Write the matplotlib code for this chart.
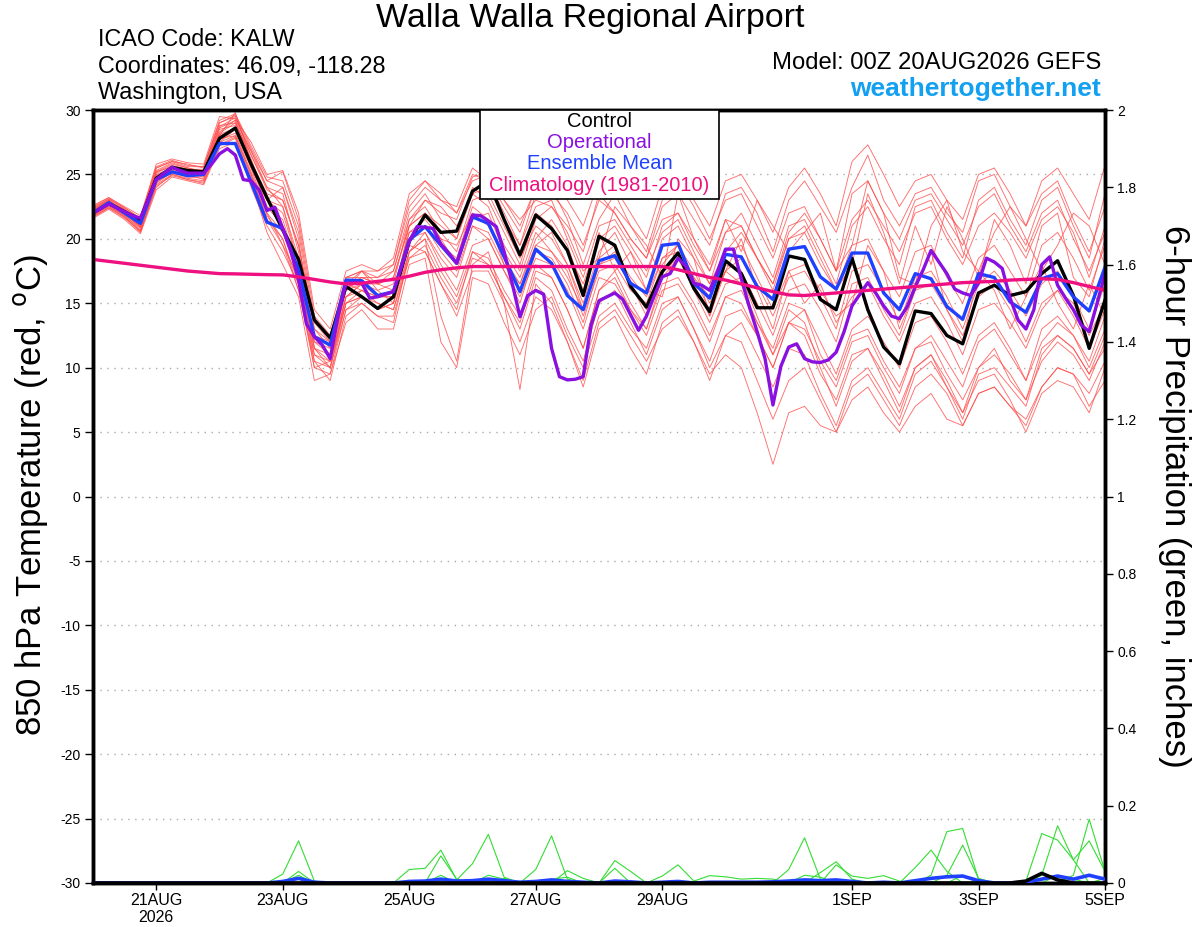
import matplotlib
matplotlib.use("Agg")
import matplotlib.pyplot as plt
from matplotlib.patches import Rectangle
import numpy as np

plt.rcParams['font.family'] = ['Liberation Sans', 'DejaVu Sans']

# ---------------- data ----------------
hours6 = np.arange(0, 385, 6)      # 20AUG 00Z .. 5SEP 00Z, 6-hourly
hours3 = np.arange(0, 385, 3)      # operational is 3-hourly

tick_hours = [24, 72, 120, 168, 216, 288, 336, 384]
tick_labels = ["21AUG\n2026", "23AUG", "25AUG", "27AUG", "29AUG", "1SEP", "3SEP", "5SEP"]

control = [22.0, 22.76, 22.1, 21.5, 24.7, 25.55, 25.3, 25.2, 27.8, 28.6, 25.8, 23.2, 20.7, 18.4, 13.7, 12.3, 16.3,
           15.5, 14.6, 15.5, 19.8, 21.85, 20.5, 20.6, 23.7, 24.5, 21.5, 18.75, 21.85, 20.8, 19.1, 15.6,
           20.2, 19.5, 16.3, 14.7, 17.45, 18.9, 16.15, 14.35, 18.3, 17.3, 14.65, 14.65, 18.67, 18.4, 15.3, 14.5,
           18.5, 14.5, 11.6, 10.3, 14.4, 14.2, 12.5, 11.85, 15.8, 16.4, 15.6, 15.9, 17.3, 18.3, 15.6, 11.5, 15.25]

ens_mean = [22.0, 22.8, 22.0, 21.2, 24.6, 25.2, 24.9, 25.0, 27.4, 27.4, 24.4, 21.3, 20.8, 17.6, 12.4, 11.75, 16.8,
            16.75, 15.6, 15.9, 19.9, 20.95, 19.5, 18.1, 21.7, 21.2, 18.6, 15.9, 19.2, 18.1, 15.6, 14.5,
            18.3, 18.7, 16.55, 15.8, 19.5, 19.65, 16.55, 15.4, 18.8, 18.6, 16.3, 15.3, 19.2, 19.4, 17.05, 16.1,
            18.9, 18.9, 15.8, 14.5, 17.3, 16.9, 14.75, 13.75, 17.3, 17.0, 15.1, 14.3, 16.9, 17.3, 15.5, 14.4, 17.8]

operational = [22.0, 22.35, 22.7, 22.4, 22.1, 21.8, 21.6, 23.1, 24.6, 25.1, 25.55, 25.3, 25.1, 25.1, 25.1, 25.8,
               26.6, 27.0, 26.5, 24.6, 24.5, 23.8, 22.2, 22.45, 20.8, 19.1, 16.8, 13.4, 12.4, 11.75, 10.7, 14.0,
               16.55, 16.6, 16.55, 15.4, 15.5, 15.7, 15.9, 17.8, 19.8, 20.95, 20.9, 20.8, 19.6, 18.9, 18.1, 20.0,
               21.85, 21.8, 21.4, 20.95, 19.0, 16.6, 13.95, 15.6, 16.0, 15.7, 11.5, 9.3, 9.05, 9.1, 9.3, 13.3,
               15.2, 15.5, 15.8, 15.3, 14.1, 12.9, 14.0, 15.6, 17.05, 17.3, 18.5, 17.85, 16.55, 16.4, 16.0, 17.5,
               19.2, 19.2, 16.9, 14.75, 12.8, 10.7, 7.1, 10.1, 11.6, 11.85, 10.7, 10.45, 10.4, 10.6, 11.2, 12.8,
               14.8, 15.7, 16.6, 15.8, 14.8, 14.0, 13.8, 14.75, 16.3, 17.6, 19.1, 18.2, 17.3, 16.1, 15.8, 15.6,
               16.55, 18.5, 18.2, 17.7, 15.4, 13.7, 13.0, 14.5, 18.0, 18.6, 16.4, 15.4, 14.5, 13.3, 12.8, 15.0,
               17.3]

climatology = [18.4, 18.25, 18.1, 17.95, 17.8, 17.65, 17.5, 17.4, 17.3, 17.28, 17.25, 17.22, 17.2, 17.05, 16.85,
               16.65, 16.5, 16.55, 16.7, 16.85, 17.1, 17.4, 17.6, 17.75, 17.85, 17.85, 17.85, 17.85, 17.85, 17.85,
               17.85, 17.85, 17.85, 17.85, 17.85, 17.85, 17.85, 17.6, 17.3, 17.0, 16.8, 16.5, 16.2, 15.9, 15.65,
               15.6, 15.7, 15.8, 15.9, 16.0, 16.1, 16.2, 16.3, 16.4, 16.5, 16.6, 16.65, 16.7, 16.8, 16.85, 16.9,
               16.85, 16.6, 16.3, 16.0]

members = [
    [22.4, 23.1, 22.3, 21.2, 25.5, 26.0, 25.8, 25.5, 29.0, 29.6, 27.0, 24.5, 25.2, 21.5, 14.0, 12.5, 17.0,
     17.5, 16.5, 17.0, 21.0, 23.0, 22.0, 21.5, 24.8, 25.2, 23.0, 21.0, 24.0, 23.5, 22.0, 19.5,
     23.0, 22.0, 20.0, 18.5, 22.5, 23.5, 21.5, 19.5, 23.5, 24.0, 22.0, 19.0, 23.0, 24.5, 22.5, 20.5,
     24.0, 26.5, 23.0, 21.0, 23.5, 24.0, 22.0, 20.5, 24.5, 25.0, 22.5, 21.0, 23.5, 24.5, 21.5, 19.0, 22.5],
    [22.0, 22.8, 22.0, 21.0, 25.0, 25.5, 25.3, 25.0, 28.0, 29.8, 26.0, 23.0, 24.0, 20.0, 11.5, 10.0, 15.5,
     16.5, 15.5, 16.0, 20.5, 21.0, 19.5, 18.5, 22.5, 21.5, 18.0, 16.0, 19.5, 20.5, 18.0, 14.5,
     18.5, 19.5, 16.5, 14.5, 18.0, 19.5, 17.0, 14.5, 17.5, 16.5, 13.5, 11.5, 15.0, 14.5, 11.0, 9.0,
     12.5, 13.0, 10.5, 8.5, 11.5, 12.0, 9.5, 7.5, 10.0, 11.5, 9.0, 7.5, 10.5, 12.0, 11.0, 9.0, 12.0],
    [21.8, 22.5, 21.7, 20.5, 24.3, 25.2, 25.0, 24.8, 27.5, 28.5, 25.5, 22.0, 19.5, 17.0, 10.5, 9.0, 14.0,
     15.0, 14.0, 13.5, 19.0, 20.0, 14.0, 10.5, 18.0, 19.0, 15.0, 8.3, 16.5, 15.0, 12.0, 8.5,
     13.0, 14.0, 11.5, 9.5, 13.5, 14.5, 12.0, 9.0, 12.5, 12.0, 9.0, 6.0, 9.0, 10.0, 7.5, 5.0,
     8.5, 9.5, 7.5, 5.5, 8.5, 9.5, 8.0, 5.5, 8.0, 8.5, 7.0, 6.0, 8.5, 10.0, 9.5, 7.0, 9.0],
    [22.2, 23.0, 22.1, 21.3, 25.3, 25.9, 25.5, 25.2, 28.8, 29.0, 26.5, 24.0, 22.5, 18.5, 12.0, 11.0, 16.0,
     17.0, 17.0, 17.5, 22.0, 23.5, 21.5, 20.0, 24.0, 23.0, 20.5, 18.0, 22.0, 21.0, 19.0, 16.5,
     20.0, 21.0, 19.0, 17.0, 21.0, 22.0, 20.0, 17.5, 21.5, 21.0, 18.5, 16.0, 20.0, 20.5, 18.0, 16.0,
     19.5, 20.0, 17.5, 15.5, 19.0, 19.5, 17.0, 15.0, 18.5, 19.5, 17.5, 15.5, 19.5, 20.5, 18.5, 16.0, 19.5],
    [21.9, 22.6, 21.8, 20.8, 24.5, 25.3, 25.0, 24.6, 27.8, 28.0, 25.0, 21.5, 20.0, 16.0, 10.0, 10.5, 15.0,
     15.5, 14.5, 15.0, 19.5, 19.0, 16.5, 14.5, 19.0, 18.5, 16.0, 14.0, 18.0, 17.0, 14.5, 11.5,
     16.0, 17.5, 15.0, 13.0, 17.0, 18.5, 16.0, 13.5, 16.5, 17.0, 14.0, 11.0, 14.5, 13.5, 10.0, 7.0,
     10.5, 11.5, 9.5, 7.0, 10.0, 11.0, 9.0, 6.5, 9.0, 9.5, 7.5, 5.0, 8.0, 9.0, 8.5, 6.5, 10.0],
    [22.5, 23.2, 22.4, 21.6, 25.8, 26.2, 25.9, 25.8, 29.5, 29.3, 27.5, 25.0, 25.3, 22.0, 14.5, 13.0, 17.5,
     18.0, 17.5, 18.0, 22.5, 24.0, 23.0, 22.5, 25.5, 24.5, 22.0, 19.5, 23.5, 24.0, 21.5, 18.0,
     21.5, 23.5, 21.0, 19.0, 23.0, 24.5, 22.5, 20.0, 23.0, 23.5, 21.0, 18.5, 22.0, 22.5, 20.0, 17.5,
     19.5, 24.5, 22.0, 17.0, 16.5, 21.0, 23.0, 19.0, 17.5, 20.5, 22.5, 20.0, 17.5, 19.5, 22.0, 21.0, 18.0],
    [22.1, 22.9, 22.2, 21.4, 25.1, 25.7, 25.4, 25.3, 28.3, 29.2, 26.0, 23.5, 23.0, 19.5, 13.0, 11.5, 16.5,
     16.0, 15.5, 15.5, 21.0, 22.0, 20.0, 18.0, 21.5, 22.0, 19.0, 17.0, 20.5, 19.0, 17.5, 14.0,
     17.5, 18.0, 16.0, 15.0, 18.5, 19.0, 17.0, 15.5, 19.0, 19.5, 17.0, 14.5, 17.5, 18.0, 16.0, 14.0,
     15.0, 19.5, 17.5, 13.0, 16.0, 19.0, 14.5, 12.0, 17.5, 16.0, 13.0, 15.5, 18.0, 15.0, 13.0, 16.5, 14.0],
    [21.7, 22.4, 21.6, 20.6, 24.0, 25.0, 24.6, 24.4, 27.2, 27.8, 24.5, 20.5, 18.0, 15.5, 9.0, 9.5, 13.5,
     14.5, 13.0, 13.0, 18.0, 18.5, 12.0, 10.0, 17.0, 16.5, 13.5, 11.0, 14.5, 15.5, 12.5, 10.0,
     14.0, 15.0, 13.0, 11.5, 15.0, 15.5, 13.0, 10.5, 14.0, 14.5, 12.5, 10.0, 13.5, 12.5, 9.5, 7.5,
     11.0, 11.5, 9.0, 6.5, 10.0, 11.0, 8.5, 6.0, 9.5, 10.0, 8.5, 7.0, 11.0, 12.5, 11.5, 9.5, 12.5],
    [22.3, 23.0, 22.0, 21.0, 24.8, 25.5, 25.2, 25.0, 28.5, 28.8, 26.0, 22.5, 21.0, 17.5, 11.0, 10.5, 15.5,
     16.5, 16.0, 16.5, 21.5, 22.5, 20.5, 19.0, 23.0, 23.5, 21.0, 18.5, 21.0, 20.0, 18.0, 15.0,
     19.0, 20.5, 18.0, 16.0, 20.0, 21.0, 18.5, 16.5, 20.5, 22.0, 19.5, 17.0, 21.0, 21.5, 19.0, 16.5,
     21.0, 22.5, 20.0, 18.0, 22.5, 23.0, 20.5, 18.5, 23.0, 24.0, 21.5, 19.5, 23.0, 24.0, 21.0, 18.5, 23.5],
    [22.0, 22.7, 21.9, 20.9, 24.6, 25.4, 25.1, 24.9, 28.0, 28.5, 25.5, 23.0, 22.0, 18.0, 12.5, 12.0, 16.0,
     17.5, 16.0, 15.0, 20.0, 20.5, 18.5, 17.0, 21.0, 20.0, 17.5, 15.5, 18.5, 18.0, 16.0, 13.0,
     17.0, 16.5, 14.5, 13.0, 16.5, 17.0, 15.0, 12.5, 15.5, 16.0, 13.5, 11.0, 13.5, 13.0, 10.5, 8.5,
     12.0, 12.5, 10.0, 8.0, 11.5, 12.5, 10.5, 8.5, 12.0, 13.0, 11.0, 9.0, 13.0, 14.0, 12.5, 10.5, 14.0],
    [22.6, 23.2, 22.5, 21.8, 25.6, 26.1, 25.7, 25.6, 29.2, 29.7, 27.2, 24.8, 24.5, 21.0, 13.5, 12.0, 17.0,
     17.0, 16.5, 17.5, 21.5, 23.0, 22.5, 21.0, 23.5, 22.5, 19.5, 17.5, 21.5, 22.5, 20.5, 17.5,
     18.5, 22.5, 21.0, 19.5, 17.0, 23.5, 20.0, 18.0, 21.5, 19.0, 23.0, 21.0, 19.0, 20.5, 22.0, 17.5,
     23.5, 24.5, 22.0, 20.0, 23.0, 23.5, 21.5, 19.5, 22.5, 23.5, 21.0, 19.0, 22.0, 23.0, 20.0, 17.5, 20.5],
    [21.6, 22.3, 21.5, 20.4, 23.8, 24.8, 24.5, 24.2, 27.0, 27.5, 24.0, 21.0, 19.0, 16.5, 10.0, 9.5, 14.5,
     15.5, 15.0, 14.5, 18.5, 19.5, 17.0, 15.0, 18.5, 18.0, 15.5, 13.0, 17.0, 16.0, 13.0, 10.5,
     15.0, 16.0, 13.5, 11.0, 14.5, 15.5, 13.0, 10.0, 12.5, 13.5, 11.0, 8.5, 11.5, 11.0, 8.0, 5.5,
     9.0, 10.0, 8.0, 6.0, 9.5, 10.5, 8.5, 6.5, 10.0, 11.0, 9.5, 7.5, 11.5, 12.5, 11.5, 9.5, 11.5],
    [22.2, 22.9, 22.3, 21.5, 25.2, 25.6, 25.4, 25.4, 28.7, 29.4, 26.8, 24.0, 23.5, 19.0, 12.5, 11.0, 16.0,
     16.5, 16.5, 16.0, 20.5, 21.5, 20.0, 19.5, 22.0, 21.0, 18.5, 16.5, 20.0, 21.5, 19.5, 16.0,
     20.5, 17.5, 19.0, 16.0, 15.5, 20.0, 18.5, 14.0, 17.5, 20.0, 16.0, 13.0, 17.5, 15.0, 16.5, 13.5,
     15.5, 16.5, 14.0, 12.0, 15.0, 15.5, 13.5, 11.0, 14.5, 15.0, 13.5, 11.5, 14.5, 16.0, 15.0, 12.5, 15.0],
    [21.9, 22.6, 21.9, 21.0, 24.4, 25.1, 24.8, 24.7, 27.7, 28.2, 25.2, 22.0, 20.5, 17.0, 11.5, 10.5, 15.0,
     16.0, 15.0, 14.5, 19.0, 20.5, 18.0, 16.0, 19.5, 20.0, 17.5, 15.0, 19.0, 18.5, 16.5, 13.5,
     18.0, 18.5, 16.5, 14.0, 17.5, 18.5, 16.5, 14.0, 18.0, 17.5, 15.0, 12.5, 16.0, 16.5, 14.5, 12.0,
     16.5, 17.0, 14.5, 12.5, 16.0, 16.5, 14.5, 12.5, 15.5, 16.5, 14.5, 12.0, 15.0, 16.0, 14.0, 11.5, 14.5],
    [22.4, 23.1, 22.4, 21.6, 25.5, 26.0, 25.6, 25.6, 29.0, 29.5, 26.5, 23.8, 23.0, 19.5, 13.5, 12.5, 17.0,
     17.5, 17.0, 18.0, 23.0, 24.5, 23.5, 22.0, 24.5, 25.0, 23.0, 21.5, 23.0, 22.5, 21.0, 19.0,
     23.5, 22.0, 20.0, 18.5, 21.5, 22.0, 19.5, 17.5, 20.5, 21.0, 18.5, 16.5, 20.0, 21.0, 18.5, 16.0,
     18.0, 23.5, 20.5, 16.5, 21.0, 18.0, 22.5, 20.0, 17.0, 21.5, 19.5, 16.5, 21.0, 22.0, 17.0, 15.5, 20.0],
    [21.8, 22.5, 21.8, 20.7, 24.2, 25.0, 24.7, 24.5, 27.5, 28.0, 25.0, 21.5, 19.5, 16.0, 10.5, 10.0, 14.5,
     15.0, 14.0, 14.0, 18.5, 19.0, 16.5, 14.0, 17.5, 17.5, 15.0, 12.0, 15.5, 14.5, 12.0, 9.0,
     13.5, 14.5, 12.5, 10.5, 13.0, 14.0, 12.0, 9.5, 11.0, 10.0, 6.5, 2.5, 6.5, 7.0, 5.5, 5.0,
     7.5, 8.5, 6.5, 5.0, 7.0, 8.0, 6.0, 5.5, 8.0, 8.5, 7.0, 5.5, 8.5, 10.0, 9.5, 8.0, 10.5],
    [22.1, 22.8, 22.1, 21.1, 24.9, 25.5, 25.3, 25.1, 28.2, 29.0, 26.2, 23.0, 22.5, 18.0, 12.0, 11.5, 16.5,
     17.0, 16.5, 17.0, 21.0, 22.0, 21.0, 20.0, 23.5, 24.0, 21.5, 19.5, 22.5, 23.0, 20.0, 17.0,
     21.0, 21.5, 19.5, 17.5, 20.5, 21.5, 19.0, 16.5, 19.0, 20.5, 18.5, 16.5, 20.5, 22.0, 20.0, 17.5,
     21.5, 23.0, 21.0, 19.0, 22.0, 22.5, 20.0, 18.0, 21.0, 22.0, 20.5, 18.5, 21.5, 22.5, 20.5, 17.0, 21.0],
    [22.0, 22.7, 22.0, 20.9, 24.7, 25.3, 25.0, 24.9, 28.1, 28.6, 25.7, 22.5, 21.5, 17.5, 11.5, 11.0, 15.5,
     16.0, 15.5, 15.5, 20.0, 21.0, 19.0, 17.5, 21.0, 20.5, 18.0, 16.5, 19.5, 19.0, 17.0, 14.5,
     18.0, 19.0, 17.0, 15.5, 18.5, 19.5, 17.5, 15.0, 17.5, 18.5, 16.5, 14.0, 17.0, 17.5, 15.5, 13.0,
     17.5, 18.0, 16.0, 13.5, 17.0, 17.5, 15.5, 13.0, 16.5, 17.5, 16.0, 14.0, 16.5, 17.5, 15.5, 13.0, 16.5],
    [22.3, 23.0, 22.2, 21.3, 25.2, 25.8, 25.5, 25.2, 28.6, 29.2, 26.8, 24.5, 24.0, 20.5, 13.0, 12.0, 16.5,
     17.5, 17.5, 18.5, 23.5, 24.5, 23.0, 22.0, 25.0, 24.5, 22.5, 20.5, 24.0, 25.0, 23.0, 21.0,
     24.5, 24.0, 22.0, 20.0, 24.0, 25.0, 23.0, 21.0, 24.5, 25.0, 23.0, 20.5, 24.0, 25.5, 23.5, 21.0,
     26.0, 27.3, 25.0, 22.5, 24.5, 25.0, 23.0, 21.5, 25.0, 25.5, 23.5, 21.0, 24.5, 25.5, 23.5, 21.5, 25.7],
    [21.7, 22.4, 21.7, 20.6, 24.1, 24.9, 24.6, 24.3, 27.3, 27.9, 24.8, 21.8, 20.0, 16.5, 11.0, 10.0, 15.0,
     15.5, 14.5, 15.0, 19.0, 20.0, 17.5, 15.5, 19.0, 18.0, 15.5, 13.5, 17.5, 17.0, 14.5, 11.5,
     16.0, 17.0, 14.5, 12.5, 16.0, 16.5, 14.5, 12.0, 15.5, 15.0, 12.5, 10.0, 13.5, 14.5, 12.0, 9.5,
     13.0, 14.0, 12.0, 10.0, 13.5, 14.0, 12.0, 9.5, 12.5, 13.5, 11.5, 9.0, 12.0, 13.5, 12.5, 10.0, 13.0],
]

# 6-hour precipitation (inches): {6-hourly index: value}; unlisted steps are 0
precip_members = [
    {12: 0.023, 13: 0.109, 14: 0.005, 23: 0.008, 24: 0.05, 25: 0.126, 26: 0.015, 44: 0.035, 45: 0.117,
     46: 0.01, 62: 0.02, 63: 0.165, 64: 0.03},
    {13: 0.03, 20: 0.035, 21: 0.038, 22: 0.085, 23: 0.008, 28: 0.035, 29: 0.122, 30: 0.01, 53: 0.02,
     54: 0.133, 55: 0.141, 56: 0.01},
    {13: 0.02, 22: 0.07, 23: 0.01, 26: 0.012, 30: 0.032, 31: 0.012, 33: 0.058, 34: 0.03, 46: 0.027,
     47: 0.055, 48: 0.01, 60: 0.02, 61: 0.148, 62: 0.06},
    {36: 0.018, 37: 0.047, 38: 0.005, 39: 0.019, 40: 0.016, 41: 0.01, 42: 0.012, 43: 0.01, 52: 0.04,
     53: 0.085, 54: 0.03, 59: 0.005, 60: 0.128, 61: 0.111, 62: 0.06, 63: 0.109, 64: 0.03},
    {22: 0.02, 25: 0.02, 26: 0.01, 33: 0.038, 47: 0.047, 48: 0.018, 49: 0.012, 50: 0.019, 51: 0.005,
     54: 0.02, 55: 0.098, 56: 0.012},
    {13: 0.012, 29: 0.01, 30: 0.015, 45: 0.02, 46: 0.015, 55: 0.02, 61: 0.02, 62: 0.01, 64: 0.012},
]
precip_mean = {12: 0.004, 13: 0.012, 14: 0.002, 20: 0.004, 21: 0.005, 22: 0.01, 23: 0.005, 24: 0.006,
               25: 0.01, 26: 0.006, 27: 0.002, 28: 0.004, 29: 0.008, 30: 0.004, 31: 0.002, 33: 0.005,
               34: 0.003, 36: 0.002, 37: 0.004, 39: 0.002, 40: 0.002, 41: 0.002, 42: 0.002, 43: 0.003,
               44: 0.005, 45: 0.008, 46: 0.006, 47: 0.008, 48: 0.004, 50: 0.002, 52: 0.006, 53: 0.012,
               54: 0.016, 55: 0.018, 56: 0.006, 59: 0.002, 60: 0.01, 61: 0.018, 62: 0.01, 63: 0.02, 64: 0.01}
precip_control = {59: 0.005, 60: 0.025, 61: 0.008}


def to_series(d, n=len(hours6)):
    s = np.zeros(n)
    for k, v in d.items():
        s[k] = v
    return s


# ---------------- colours ----------------
C_MEMBER = '#ff4a4a'
C_CTRL = 'black'
C_OP = '#8a10e0'
C_MEAN = '#2040ff'
C_CLIM = '#ee1080'
C_GREEN = '#33dd33'

# ---------------- figure ----------------
fig = plt.figure(figsize=(12, 9.27), dpi=100)
ax = fig.add_axes([93 / 1200, 1 - 883 / 927, (1105 - 93) / 1200, (883 - 110) / 927])

for m in members:
    ax.plot(hours6, m, color=C_MEMBER, lw=0.65, alpha=0.8, zorder=2)
ax.plot(hours6, control, color=C_CTRL, lw=2.4, zorder=4)
ax.plot(hours6, ens_mean, color=C_MEAN, lw=2.4, zorder=5)
ax.plot(hours3, operational, color=C_OP, lw=2.4, zorder=6)
ax.plot(hours6, climatology, color=C_CLIM, lw=2.4, zorder=7)

ax.set_xlim(0, 384)
ax.set_ylim(-30, 30)
ax.set_yticks(np.arange(-30, 31, 5))
ax.set_yticklabels([str(v) for v in range(-30, 31, 5)])
ax.set_xticks(tick_hours)
ax.set_xticklabels(tick_labels)
for yv in range(-25, 30, 5):
    ax.axhline(yv, color='#aaaaaa', lw=1.0, ls=(0, (1, 4)), zorder=1)

ax.tick_params(axis='y', direction='out', length=6, width=1, labelsize=10, pad=3)
ax.tick_params(axis='x', direction='out', length=5, width=1, labelsize=11.5, pad=2)
for sp in ax.spines.values():
    sp.set_linewidth(2.5)

# precipitation axis
ax2 = ax.twinx()
for d in precip_members:
    ax2.plot(hours6, to_series(d), color=C_GREEN, lw=0.8, zorder=2)
ax2.plot(hours6, to_series(precip_mean), color=C_MEAN, lw=2.6, zorder=3)
ax2.plot(hours6, to_series(precip_control), color=C_CTRL, lw=2.6, zorder=4)
ax2.set_ylim(0, 2)
ax2.set_xlim(0, 384)
ax2.set_yticks(np.arange(0, 2.01, 0.2))
ax2.set_yticklabels(['0', '0.2', '0.4', '0.6', '0.8', '1', '1.2', '1.4', '1.6', '1.8', '2'])
ax2.tick_params(axis='y', direction='out', length=6, width=1, labelsize=10, pad=3)
for sp in ax2.spines.values():
    sp.set_linewidth(2.5)

# axis titles
fig.text(31 / 1200, 1 - 495 / 927, "850 hPa Temperature (red, $^{\\mathrm{o}}$C)", fontsize=25,
         rotation=90, ha='center', va='center')
fig.text(1175 / 1200, 1 - 496 / 927, "6-hour Precipitation (green, inches)", fontsize=25,
         rotation=-90, ha='center', va='center')

# legend box (drawn on top)
x0 = (480 - 93) / 1012
x1 = (719 - 93) / 1012
y0 = (883 - 199) / 773
ax2.add_patch(Rectangle((x0, y0), x1 - x0, 1.0 - y0, transform=ax2.transAxes,
                        facecolor='white', edgecolor='black', lw=1.2, zorder=20, clip_on=False))
xc = (x0 + x1) / 2
for txt, col, yp in [("Control", C_CTRL, 121), ("Operational", C_OP, 142),
                     ("Ensemble Mean", C_MEAN, 163), ("Climatology (1981-2010)", C_CLIM, 185)]:
    ax2.text(xc, (883 - yp) / 773, txt, color=col, fontsize=14.5, ha='center', va='center',
             transform=ax2.transAxes, zorder=21)

# header texts
fig.text(590 / 1200, 1 - 18 / 927, "Walla Walla Regional Airport", fontsize=24.5, ha='center', va='center')
fig.text(98 / 1200, 1 - 40 / 927, "ICAO Code: KALW", fontsize=16.8, ha='left', va='center')
fig.text(98 / 1200, 1 - 66 / 927, "Coordinates: 46.09, -118.28", fontsize=16.8, ha='left', va='center')
fig.text(98 / 1200, 1 - 92 / 927, "Washington, USA", fontsize=16.8, ha='left', va='center')
fig.text(1101 / 1200, 1 - 63 / 927, "Model: 00Z 20AUG2026 GEFS", fontsize=17.2, ha='right', va='center')
fig.text(1101 / 1200, 1 - 89 / 927, "weathertogether.net", fontsize=19, ha='right', va='center',
         color='#14a0f0', fontweight='bold')

fig.savefig("out.png", dpi=100)
